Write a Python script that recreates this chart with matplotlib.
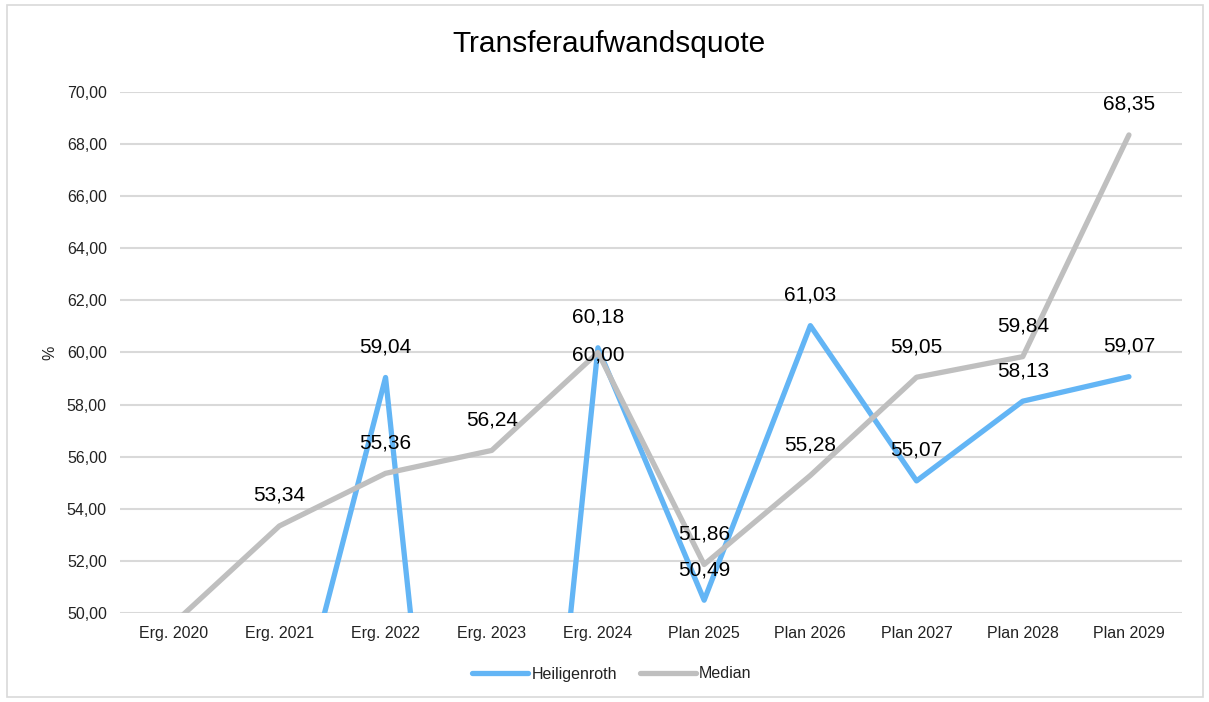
import numpy as np
import matplotlib
matplotlib.use('Agg')
import matplotlib.pyplot as plt
from matplotlib.patches import Rectangle

plt.rcParams['font.family'] = ['Liberation Sans', 'DejaVu Sans']

# Daten
kategorien = ['Erg. 2020', 'Erg. 2021', 'Erg. 2022', 'Erg. 2023', 'Erg. 2024',
              'Plan 2025', 'Plan 2026', 'Plan 2027', 'Plan 2028', 'Plan 2029']
heiligenroth = [np.nan, 43.3, 59.04, 20.5, 60.18, 50.49, 61.03, 55.07, 58.13, 59.07]
median = [49.58, 53.34, 55.36, 56.24, 60.00, 51.86, 55.28, 59.05, 59.84, 68.35]
y_ticks = [50, 52, 54, 56, 58, 60, 62, 64, 66, 68, 70]

blau = '#63B5F5'
grau = '#BFBFBF'
text_farbe = '#222222'

def fmt(v):
  return ('%.2f' % v).replace('.', ',')

fig = plt.figure(figsize=(12.09, 7.02), dpi=100)
ax = fig.add_axes([0.0993, 0.1268, 0.8784, 0.7422])

x = np.arange(len(kategorien))
ax.plot(x, heiligenroth, color=blau, linewidth=3.8, solid_capstyle='round', label='Heiligenroth', zorder=3)
ax.plot(x, median, color=grau, linewidth=3.8, solid_capstyle='round', label='Median', zorder=3)

# Datenbeschriftungen (nur sichtbare Punkte), Median 2024 sitzt auf dem Punkt
for serie, name in ((heiligenroth, 'h'), (median, 'm')):
  for i, v in enumerate(serie):
    if not np.isnan(v) and 50 <= v <= 70:
      dy = 22
      if name == 'm' and i == 4:
        dy = -1.5
      ax.annotate(fmt(v), (i, v), xytext=(0, dy), textcoords='offset points',
                  ha='center', va='center', fontsize=15, color='black',
                  annotation_clip=False, zorder=4)

ax.set_xlim(-0.5, len(kategorien) - 0.5)
ax.set_ylim(50, 70)
ax.set_yticks(y_ticks)
ax.set_yticklabels([fmt(v) for v in y_ticks], fontsize=11.5, color=text_farbe)
ax.set_xticks(x)
ax.set_xticklabels(kategorien, fontsize=11.5, color=text_farbe)
ax.tick_params(length=0, pad=9.5)
ax.grid(axis='y', color='#D9D9D9', linewidth=1.5, zorder=0)
ax.set_axisbelow(True)
for s in ax.spines.values():
  s.set_visible(False)

ax.set_ylabel('%', fontsize=11.5, color=text_farbe, labelpad=7)

fig.text(0.504, 0.938, 'Transferaufwandsquote', ha='center', va='center', fontsize=21.5, color='black')

leg = ax.legend(loc='center', bbox_to_anchor=(612 / 1209, 1 - 674 / 702), bbox_transform=fig.transFigure,
                ncol=2, frameon=False, fontsize=11.5, handlelength=3.5, handletextpad=0.2, columnspacing=1.45)
for t in leg.get_texts():
  t.set_color(text_farbe)

# Rahmen
fig.patches.append(Rectangle((7 / 1209, 5 / 702), 1196 / 1209, 692 / 702, transform=fig.transFigure,
                             fill=False, edgecolor='#D9D9D9', linewidth=1.2))

fig.savefig('out.png', dpi=100)
